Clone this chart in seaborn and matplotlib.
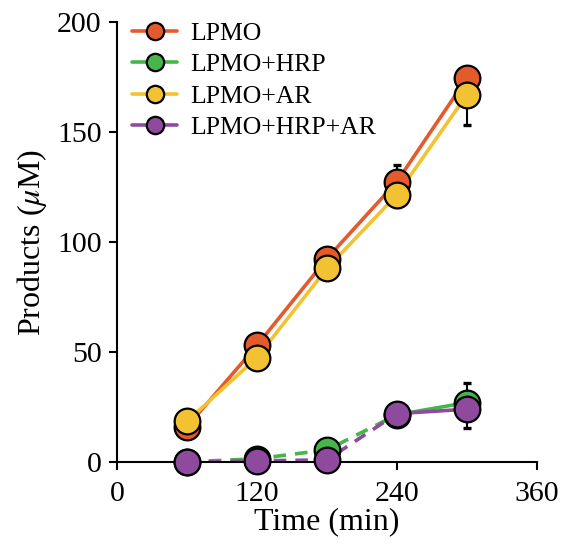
import matplotlib
matplotlib.use("Agg")
import matplotlib.pyplot as plt
from matplotlib.lines import Line2D
import seaborn as sns
import pandas as pd
import numpy as np

sns.set_style("ticks")
plt.rcParams['font.family'] = ['Liberation Serif', 'DejaVu Serif']
plt.rcParams['mathtext.fontset'] = 'stix'
plt.rcParams['text.color'] = 'black'
plt.rcParams['axes.labelcolor'] = 'black'

time_min = [60, 120, 180, 240, 300]
series_names = ["LPMO", "LPMO+HRP", "LPMO+AR", "LPMO+HRP+AR"]
lpmo = [16, 53, 92.5, 127.5, 174.5]
lpmo_hrp = [0, 1.5, 5.5, 21.5, 27]
lpmo_ar = [18.5, 47.5, 88, 121.5, 167]
lpmo_hrp_ar = [0, 0.5, 1, 22, 24]
err_lpmo = [1, 2, 2, 7.5, 2]
err_lpmo_hrp = [0.5, 0.5, 1, 1, 9]
err_lpmo_ar = [1, 1.5, 2, 5.5, 14]
err_lpmo_hrp_ar = [0.5, 0.5, 0.5, 1, 8.5]
colors = ["#e35a2b", "#46b648", "#f2c232", "#8e4a9d"]
x_ticks = [0, 120, 240, 360]
y_ticks = [0, 50, 100, 150, 200]

values = [lpmo, lpmo_hrp, lpmo_ar, lpmo_hrp_ar]
errors = [err_lpmo, err_lpmo_hrp, err_lpmo_ar, err_lpmo_hrp_ar]
dashed_early = [False, True, False, True]
err_upward = [True, True, False, False]

fig = plt.figure(figsize=(5.61, 5.44), dpi=100)
ax = fig.add_axes([117/561, 1-462/544, 420/561, 440/544])

lw = 2.6
ms = 18.5
for i, (name, vals, errs, col) in enumerate(zip(series_names, values, errors, colors)):
    df = pd.DataFrame({"Time": time_min, "Products": vals})
    if dashed_early[i]:
        sns.lineplot(data=df.iloc[:4], x="Time", y="Products", color=col, lw=lw,
                     linestyle=(0, (3.5, 2.5)), ax=ax, zorder=2, legend=False)
        sns.lineplot(data=df.iloc[3:], x="Time", y="Products", color=col, lw=lw,
                     ax=ax, zorder=2, legend=False)
    else:
        sns.lineplot(data=df, x="Time", y="Products", color=col, lw=lw,
                     ax=ax, zorder=2, legend=False)

for i, (name, vals, errs, col) in enumerate(zip(series_names, values, errors, colors)):
    zeros = [0] * len(errs)
    yerr = [zeros, errs] if err_upward[i] else [errs, zeros]
    eb = ax.errorbar(time_min, vals, yerr=yerr, fmt='none', ecolor='black',
                     elinewidth=1.5, capsize=3.2, capthick=2.4, zorder=3 + i * 0.1)
    for art in eb.get_children():
        art.set_clip_on(False)
    sns.scatterplot(x=time_min, y=vals, color=col, s=ms**2, edgecolor='black',
                    linewidth=1.6, ax=ax, zorder=3.05 + i * 0.1, clip_on=False,
                    legend=False)

ax.set_xlim(0, 360)
ax.set_ylim(0, 200)
ax.set_xticks(x_ticks)
ax.set_yticks(y_ticks)
ax.tick_params(axis='both', labelsize=21.5, length=6, width=1.5, direction='out',
               colors='black')
ax.tick_params(axis='x', pad=8)
ax.tick_params(axis='y', pad=5)
for sp in ['left', 'bottom']:
    ax.spines[sp].set_linewidth(1.5)
    ax.spines[sp].set_color('black')
sns.despine(ax=ax)
ax.set_xlabel("Time (min)", fontsize=23, labelpad=0, color='black')
ax.set_ylabel(r"Products ($\mu$M)", fontsize=23, labelpad=6, color='black')

handles = [Line2D([0], [0], color=c, lw=lw, marker='o', markersize=12.5,
                  markerfacecolor=c, markeredgecolor='black', markeredgewidth=1.6)
           for c in colors]
ax.legend(handles, series_names, loc='upper left', bbox_to_anchor=(0.0, 1.035),
          frameon=False, fontsize=18.5, handlelength=1.75, labelspacing=0.33,
          handletextpad=0.5, borderaxespad=0.2)

fig.savefig("out.png", dpi=100)
